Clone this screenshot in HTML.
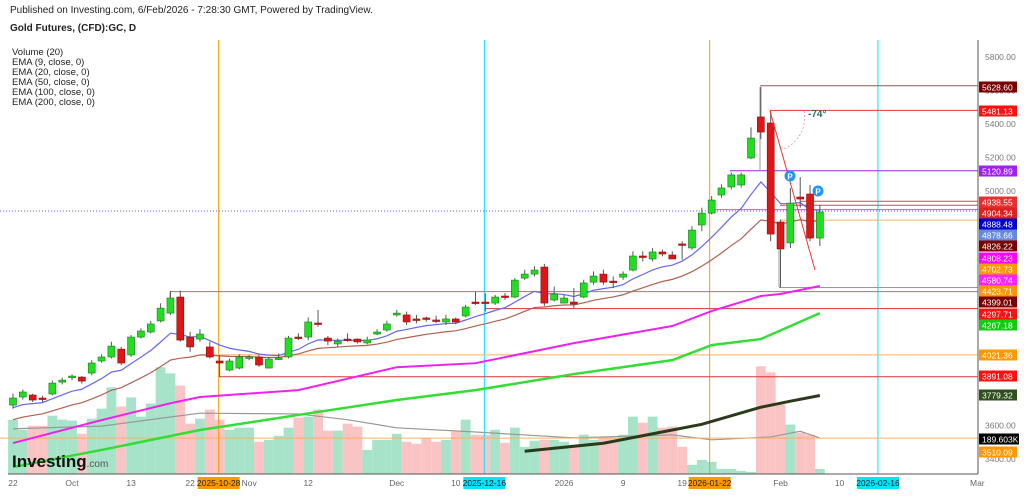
<!DOCTYPE html>
<html><head><meta charset="utf-8"><style>
body{margin:0;background:#fff;width:1024px;height:492px;overflow:hidden;font-family:"Liberation Sans",sans-serif}
svg text{font-family:"Liberation Sans",sans-serif}
</style></head><body>
<svg id="chart" width="1024" height="492" xmlns="http://www.w3.org/2000/svg">
<text x="10" y="13" font-size="10" fill="#222">Published on Investing.com, 6/Feb/2026 - 7:28:30 GMT, Powered by TradingView.</text>
<text x="10" y="31" font-size="10" font-weight="bold" fill="#222">Gold Futures, (CFD):GC, D</text>
<g font-size="9.5" fill="#222">
<text x="12" y="55">Volume (20)</text><text x="12" y="65">EMA (9, close, 0)</text><text x="12" y="75">EMA (20, close, 0)</text><text x="12" y="85">EMA (50, close, 0)</text><text x="12" y="95">EMA (100, close, 0)</text><text x="12" y="105">EMA (200, close, 0)</text>
</g>
<g id="vol"></g><g id="lines"></g><g id="cand"></g><g id="ann"></g><g id="axis"></g>
<text x="12" y="467" font-size="17" font-weight="bold" fill="#111">Investing<tspan font-size="10" font-weight="normal" fill="#555">.com</tspan></text>
</svg>
<script>
const opens=[3722,3770,3782,3764,3788,3859,3889,3889,3913,3985,4009,4056,4021,4128,4158,4224,4271,4367,4128,4116,4069,3985,3931,3943,4003,4009,3943,4000,4009,4128,4128,4212,4122,4087,4116,4116,4093,4146,4170,4260,4260,4236,4242,4230,4218,4236,4254,4337,4337,4331,4373,4367,4480,4504,4546,4349,4331,4337,4367,4456,4504,4462,4486,4528,4612,4594,4636,4618,4684,4660,4797,4868,4976,5024,5036,5197,5442,5406,4815,4690,4964,4982,4719];
const closes=[3764,3800,3752,3761,3853,3871,3895,3865,3973,4009,4074,3973,4128,4164,4206,4301,4361,4110,4069,4146,4009,3973,3985,4009,4009,3961,3997,4003,4122,4122,4218,4206,4104,4104,4113,4099,4110,4158,4206,4271,4218,4233,4239,4224,4236,4218,4307,4334,4334,4367,4367,4468,4504,4528,4331,4385,4361,4325,4451,4492,4456,4459,4504,4612,4606,4636,4624,4594,4678,4767,4868,4946,5018,5096,5096,5316,5352,4743,4654,4928,4952,4719,4875];
const highs=[3790,3815,3790,3778,3868,3885,3905,3895,3990,4025,4100,4070,4140,4180,4225,4330,4403,4405,4160,4175,4100,4020,4000,4025,4020,4020,4010,4030,4135,4150,4245,4290,4135,4120,4150,4120,4130,4175,4225,4290,4280,4260,4250,4255,4260,4245,4320,4400,4390,4380,4390,4480,4530,4550,4565,4430,4380,4420,4470,4520,4530,4490,4520,4640,4640,4660,4650,4640,4700,4790,4900,4970,5040,5110,5110,5380,5621,5477,4830,5018,5083,5036,4916];
const lows=[3700,3755,3740,3740,3780,3845,3870,3850,3900,3975,4000,3960,4010,4120,4150,4215,4260,4100,4040,4100,4000,3890,3925,3935,3990,3950,3940,3990,4000,4110,4110,4190,4080,4070,4100,4090,4085,4140,4160,4250,4200,4210,4220,4210,4200,4205,4245,4320,4280,4320,4350,4360,4470,4490,4313,4340,4330,4300,4360,4440,4440,4420,4470,4520,4580,4580,4610,4600,4590,4650,4760,4860,4960,5010,5020,5190,5310,4700,4424,4660,4900,4700,4672];
const volumes=[285,233,254,254,307,286,281,212,291,344,456,355,403,302,371,562,530,466,265,291,339,286,233,244,244,170,180,201,244,297,302,339,228,228,265,249,127,180,180,212,170,159,191,170,180,223,286,207,207,233,164,244,143,175,180,180,170,154,207,180,191,191,207,302,270,302,244,249,143,48,74,64,27,27,16,11,567,535,366,260,217,207,27];
const volMA=[[0,238],[9,252],[16,300],[19,320],[29,316],[34,286],[39,243],[47,221],[57,190],[67,206],[71,180],[77,195],[80,225],[82,190]];
const ema9Seed=3692, ema20Seed=3621;
const ema50=[[0,3495],[9,3632],[16,3733],[19,3770],[29,3811],[39,3948],[47,3972],[57,4092],[67,4194],[71,4283],[76,4373],[78,4385],[82,4433]];
const ema100=[[0,3352],[9,3454],[19,3573],[29,3663],[39,3752],[47,3811],[57,3907],[67,3990],[71,4080],[76,4116],[82,4271]];
const ema200=[[52,3446],[60,3494],[70,3607],[76,3709],[79,3745],[82,3779]];
const tickLabels=["22","Oct","13","22","Nov","12","Dec","10","2026","9","19","Feb","10","Mar"];
const tickIdx=[0,6,12,18,24,30,39,45,56,62,68,78,84,98];
const markLabels=["2025-10-28","2025-12-16","2026-01-22","2026-02-16"];
const markIdx=[20.9,47.9,70.8,87.9];
const markColors=["#ff9800","#00e5ff","#ff9800","#00e5ff"];
const priceTicks=[5800,5600,5400,5200,5000,3600,3400];

const NS="http://www.w3.org/2000/svg";
const X=i=>13+i*9.84, Y=p=>6140-(p)*0+(-5.97*0)+ (5000-p)*0.1675+191-6140+6140-0 ;
function yv(p){return 191+(5000-p)*0.1675;}
function vy(v){return 474-v*0.19;}
function mk(par,tag,at){const e=document.createElementNS(NS,tag);for(const k in at)e.setAttribute(k,at[k]);document.getElementById(par).appendChild(e);return e;}
// volume
for(let i=0;i<closes.length;i++){
 const up=closes[i]>=opens[i];
 const r=mk('vol','rect',{x:X(i)-4.9,y:vy(volumes[i]),width:9.84,height:474-vy(volumes[i]),fill:up?'#a6e3c8':'#fbc4c4'});
 
 
}
function poly(par,pts,col,w,name,yf){const p=mk(par,'polyline',{points:pts.map(q=>X(q[0])+','+yf(q[1])).join(' '),fill:'none',stroke:col,'stroke-width':w});
 
 }
poly('vol',volMA,'#999',1.2,'volume-ma-line',vy);
// vertical markers
markIdx.forEach((m,k)=>{const l=mk('lines','line',{x1:X(m),x2:X(m),y1:40,y2:474,stroke:markColors[k],'stroke-width':1});
 
 });
// horizontal levels
const hl=[[5628.6,760,'#a05050'],[5481.13,770,'#ee3333'],[5120.89,730,'#a020f0'],[4938.55,800,'#dd4444'],[4915,780,'#dd4444'],[4888.48,712,'#ee44ee'],[4826.22,780,'#ffb060'],[4423.71,779,'#999'],[4399.01,170,'#b07070'],[4297.71,485,'#dd3333'],[4021.36,200,'#ffb060'],[3891.08,219,'#dd3333'],[3525,0,'#ffb060']];
hl.forEach(h=>{const l=mk('lines','line',{x1:h[1],x2:978,y1:yv(h[0]),y2:yv(h[0]),stroke:h[2],'stroke-width':1});
 
 });
const dl=mk('lines','line',{x1:0,x2:978,y1:211,y2:211,stroke:'#5060ff','stroke-width':1,'stroke-dasharray':'1,2'});


mk('lines','line',{x1:760,x2:760,y1:87,y2:170,stroke:'#999'});
mk('lines','line',{x1:779,x2:779,y1:240,y2:287,stroke:'#999'});
mk('lines','line',{x1:170,x2:170,y1:292,y2:300,stroke:'#999'});
// EMAs
let e9=[],e20=[],a=ema9Seed,b=ema20Seed;
closes.forEach((c,i)=>{a=a+(c-a)*0.2;b=b+(c-b)*(2/21);e9.push([i,a]);e20.push([i,b]);});
poly('lines',ema200,'#2b3a1a',3,'ema200-line',yv);
poly('lines',ema100,'#33dd33',2.5,'ema100-line',yv);
poly('lines',ema50,'#ee22ee',2,'ema50-line',yv);
poly('lines',e20,'#b06050',1.2,'ema20-line',yv);
poly('lines',e9,'#6666ee',1.2,'ema9-line',yv);
// candles
for(let i=0;i<closes.length;i++){
 const up=closes[i]>=opens[i],x=X(i);
 const w=mk('cand','line',{x1:x,x2:x,y1:yv(highs[i]),y2:yv(lows[i]),stroke:'#555','stroke-width':1});
 const t=Math.min(yv(opens[i]),yv(closes[i])),h=Math.max(1.5,Math.abs(yv(opens[i])-yv(closes[i])));
 const r=mk('cand','rect',{x:x-3.5,y:t,width:7,height:h,fill:up?'#22dd22':'#e01515',stroke:up?'#1a7a1a':'#8a1010','stroke-width':0.6});
 
 
}
// annotations
mk('ann','line',{x1:770,y1:111,x2:815,y2:270,stroke:'#ee3333','stroke-width':1});
mk('ann','path',{d:'M804 111 A34 34 0 0 1 781 150',fill:'none',stroke:'#f4a0a0','stroke-dasharray':'2,2'});
mk('ann','text',{x:808,y:117,'font-size':10,'font-weight':'bold',fill:'#2f6f5f'}).textContent='-74°';
[[790,176],[818,191]].forEach(p=>{const c=mk('ann','circle',{cx:p[0],cy:p[1],r:5.5,fill:'#2196f3'});
 
 
 mk('ann','text',{x:p[0],y:p[1]+3.5,'font-size':8,'font-weight':'bold',fill:'#fff','text-anchor':'middle'}).textContent='P';});
// axes
mk('axis','line',{x1:8,x2:978,y1:474,y2:474,stroke:'#555'});
mk('axis','line',{x1:978,x2:978,y1:40,y2:474,stroke:'#555'});
priceTicks.forEach(p=>{const t=mk('axis','text',{x:985,y:yv(p)+3,'font-size':8.5,fill:'#777'});t.textContent=p.toFixed(2);
 
 });
tickLabels.forEach((s,k)=>{const t=mk('axis','text',{x:X(tickIdx[k]),y:486,'font-size':8.5,fill:'#666','text-anchor':'middle'});t.textContent=s;
 
 });
markLabels.forEach((s,k)=>{const x=X(markIdx[k]);mk('axis','rect',{x:x-21,y:477,width:42,height:12,fill:markColors[k]});
 const t=mk('axis','text',{x:x,y:486,'font-size':8.5,fill:'#222','text-anchor':'middle'});t.textContent=s;
 
 });
const tags=[['5628.60',87,'#7a0000'],['5481.13',111,'#ff1010'],['5120.89',171,'#a020f0'],['4938.55',202,'#e83030'],['4904.34',213,'#dd2020'],['4888.48',224,'#0000cc'],['4878.66',235,'#6688dd'],['4826.22',246,'#7a0000'],['4808.23',258,'#ff00ff'],['4702.73',269,'#ff9800'],['4580.74',280,'#ff22ff'],['4423.71',291,'#ff9800'],['4399.01',302,'#7a0000'],['4297.71',314,'#ff1010'],['4267.18',325,'#10cc10'],['4021.36',355,'#ff9800'],['3891.08',376,'#ff1010'],['3779.32',395,'#2f4f1f'],['189.603K',439,'#000'],['3510.09',452,'#ff9800']];
tags.forEach(g=>{mk('axis','rect',{x:979,y:g[1]-5.5,width:g[0].length>7?40:38,height:11,fill:g[2]});
 const t=mk('axis','text',{x:982,y:g[1]+3.5,'font-size':8.5,fill:'#fff'});t.textContent=g[0];
 
 });
</script>
</body></html>
